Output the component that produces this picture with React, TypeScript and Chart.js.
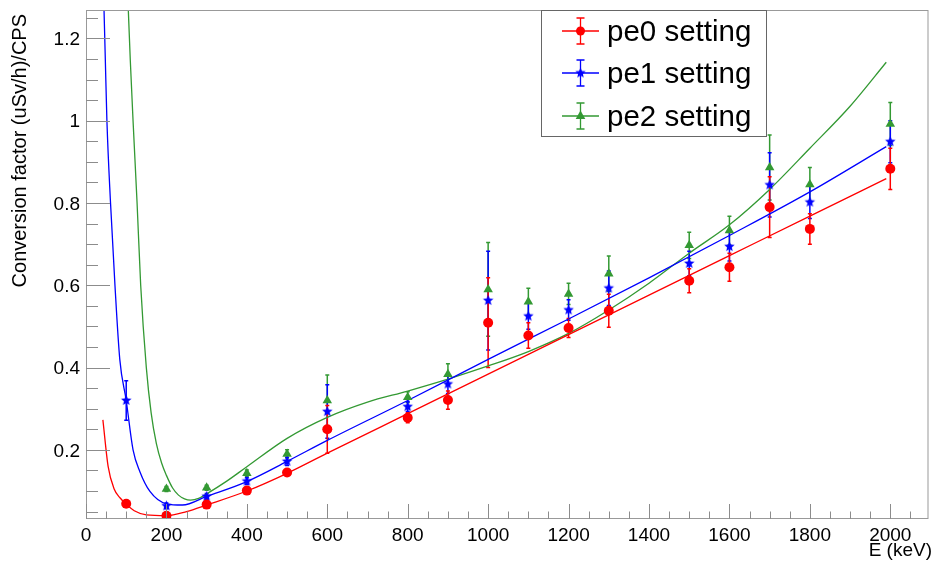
import React, { useEffect, useRef } from "react";
import { Chart, registerables } from "chart.js";

Chart.register(...registerables);

// ---------- data ----------
const energies = [100, 200, 300, 400, 500, 600, 800, 900, 1000, 1100, 1200, 1300, 1500, 1600, 1700, 1800, 2000];
const pe0Values = [0.069, 0.040, 0.067, 0.101, 0.145, 0.250, 0.278, 0.321, 0.509, 0.478, 0.496, 0.538, 0.611, 0.644, 0.790, 0.737, 0.883];
const pe0Errors = [0.006, 0.005, 0.006, 0.008, 0.009, 0.058, 0.012, 0.022, 0.109, 0.031, 0.023, 0.040, 0.029, 0.034, 0.074, 0.037, 0.050];
const pe1Values = [0.320, 0.064, 0.087, 0.124, 0.172, 0.293, 0.305, 0.360, 0.563, 0.525, 0.540, 0.593, 0.653, 0.694, 0.844, 0.802, 0.949];
const pe1Errors = [0.048, 0.007, 0.007, 0.008, 0.010, 0.065, 0.012, 0.023, 0.120, 0.032, 0.025, 0.042, 0.030, 0.035, 0.078, 0.040, 0.051];
const pe2Energies = [200, 300, 400, 500, 600, 800, 900, 1000, 1100, 1200, 1300, 1500, 1600, 1700, 1800, 2000];
const pe2Values = [0.105, 0.108, 0.143, 0.190, 0.320, 0.328, 0.384, 0.590, 0.560, 0.579, 0.628, 0.697, 0.733, 0.886, 0.845, 0.992];
const pe2Errors = [0.006, 0.006, 0.008, 0.010, 0.062, 0.013, 0.025, 0.114, 0.033, 0.026, 0.043, 0.032, 0.035, 0.079, 0.041, 0.052];

// fitted curves
const fit0E = [42, 55, 70, 85, 100, 120, 150, 200, 250, 300, 400, 500, 600, 800, 1000, 1200, 1400, 1600, 1800, 1990];
const fit0Y = [0.273, 0.160, 0.105, 0.083, 0.068, 0.052, 0.042, 0.040, 0.050, 0.066, 0.100, 0.143, 0.192, 0.288, 0.384, 0.480, 0.576, 0.672, 0.768, 0.859];
const fit1E = [44, 48, 52, 61, 72, 84, 100, 117, 134, 159, 200, 240, 300, 400, 500, 600, 800, 1000, 1200, 1400, 1600, 1800, 1990];
const fit1Y = [1.30, 1.15, 1.00, 0.80, 0.60, 0.42, 0.32, 0.20, 0.147, 0.099, 0.069, 0.066, 0.087, 0.123, 0.172, 0.223, 0.320, 0.420, 0.518, 0.618, 0.721, 0.827, 0.937];
const fit2E = [104, 110, 117, 127, 136, 150, 162, 175, 188, 200, 215, 230, 245, 260, 280, 300, 350, 400, 500, 600, 700, 800, 900, 1000, 1100, 1200, 1300, 1400, 1500, 1600, 1700, 1800, 1900, 1990];
const fit2Y = [1.30, 1.15, 1.00, 0.80, 0.60, 0.40, 0.29, 0.215, 0.168, 0.138, 0.108, 0.090, 0.081, 0.078, 0.082, 0.093, 0.124, 0.159, 0.228, 0.279, 0.316, 0.343, 0.372, 0.404, 0.439, 0.483, 0.540, 0.605, 0.678, 0.747, 0.833, 0.933, 1.035, 1.142];

const xTickLabels = [0, 200, 400, 600, 800, 1000, 1200, 1400, 1600, 1800, 2000];
const yTickLabels = [0.2, 0.4, 0.6, 0.8, 1, 1.2];
const legendLabels = ["pe0 setting", "pe1 setting", "pe2 setting"];

const X_MIN = 0;
const X_MAX = 2095;
const Y_MIN = 0.032;
const Y_MAX = 1.269;

const RED = "rgb(255,0,0)";
const BLUE = "rgb(0,0,255)";
const GREEN = "rgb(51,153,51)";
const FONT = "Liberation Sans, Arial, Helvetica, sans-serif";

function makeStar(color: string, r: number) {
  const size = Math.ceil(r * 2 + 2);
  const c = document.createElement("canvas");
  c.width = size;
  c.height = size;
  const g = c.getContext("2d")!;
  const cx = size / 2;
  const cy = size / 2;
  g.beginPath();
  for (let i = 0; i < 10; i++) {
    const ang = -Math.PI / 2 + (i * Math.PI) / 5;
    const rr = i % 2 === 0 ? r : r * 0.45;
    const px = cx + Math.cos(ang) * rr;
    const py = cy + Math.sin(ang) * rr;
    if (i === 0) g.moveTo(px, py);
    else g.lineTo(px, py);
  }
  g.closePath();
  g.fillStyle = color;
  g.fill();
  return c;
}

function fmt(v: number) {
  return String(v);
}

const rootStyle = {
  id: "rootStyle",
  beforeDatasetsDraw(chart: any) {
    const { ctx, chartArea: a, scales } = chart;
    const x = scales.x;
    const y = scales.y;
    ctx.save();
    ctx.beginPath();
    ctx.rect(a.left, a.top, a.right - a.left, a.bottom - a.top);
    ctx.clip();
    const drawErr = (es: number[], vs: number[], errs: number[], color: string) => {
      ctx.strokeStyle = color;
      ctx.lineWidth = 1.5;
      es.forEach((e, i) => {
        const px = x.getPixelForValue(e);
        const y1 = y.getPixelForValue(vs[i] + errs[i]);
        const y2 = y.getPixelForValue(vs[i] - errs[i]);
        ctx.beginPath();
        ctx.moveTo(px, y1);
        ctx.lineTo(px, y2);
        ctx.moveTo(px - 2, y1);
        ctx.lineTo(px + 2, y1);
        ctx.moveTo(px - 2, y2);
        ctx.lineTo(px + 2, y2);
        ctx.stroke();
      });
    };
    drawErr(pe2Energies, pe2Values, pe2Errors, GREEN);
    drawErr(energies, pe1Values, pe1Errors, BLUE);
    drawErr(energies, pe0Values, pe0Errors, RED);
    ctx.restore();
  },
  afterDatasetsDraw(chart: any) {
    const { ctx, chartArea: a, scales } = chart;
    const x = scales.x;
    const y = scales.y;
    ctx.save();
    // frame
    ctx.strokeStyle = "#999999";
    ctx.lineWidth = 1;
    ctx.strokeRect(a.left + 0.5, a.top + 0.5, a.right - a.left - 1, a.bottom - a.top - 1);

    // ticks
    ctx.strokeStyle = "#8c8c8c";
    ctx.beginPath();
    for (let v = 0; v <= X_MAX; v += 50) {
      const px = Math.round(x.getPixelForValue(v)) + 0.5;
      const len = v % 200 === 0 ? 15 : 7.5;
      ctx.moveTo(px, a.bottom);
      ctx.lineTo(px, a.bottom - len);
    }
    for (let k = 1; k * 0.05 <= Y_MAX; k++) {
      const v = k * 0.05;
      if (v < Y_MIN) continue;
      const py = Math.round(y.getPixelForValue(v)) + 0.5;
      const len = k % 4 === 0 ? 24 : 12;
      ctx.moveTo(a.left, py);
      ctx.lineTo(a.left + len, py);
    }
    ctx.stroke();

    // tick labels
    ctx.fillStyle = "#000";
    ctx.font = `19px ${FONT}`;
    ctx.textBaseline = "alphabetic";
    ctx.textAlign = "center";
    xTickLabels.forEach((v) => {
      ctx.fillText(fmt(v), x.getPixelForValue(v), 541);
    });
    ctx.textAlign = "right";
    yTickLabels.forEach((v) => {
      ctx.fillText(fmt(v), 80, y.getPixelForValue(v) + 6.8);
    });

    // axis titles
    ctx.textAlign = "right";
    ctx.fillText("E (keV)", 932, 556);
    ctx.save();
    ctx.font = `20px ${FONT}`;
    ctx.translate(26, 14);
    ctx.rotate(-Math.PI / 2);
    ctx.textAlign = "right";
    ctx.fillText("Conversion factor (uSv/h)/CPS", 0, 0);
    ctx.restore();

    // legend
    const lx1 = 541;
    const lx2 = 767;
    const ly1 = 10;
    const ly2 = 137;
    ctx.fillStyle = "#fff";
    ctx.fillRect(lx1, ly1, lx2 - lx1, ly2 - ly1);
    ctx.strokeStyle = "#666";
    ctx.lineWidth = 1;
    ctx.strokeRect(lx1 + 0.5, ly1 + 0.5, lx2 - lx1 - 1, ly2 - ly1 - 1);
    const rows = [31, 73, 116];
    const colors = [RED, BLUE, GREEN];
    rows.forEach((ry, i) => {
      const c = colors[i];
      ctx.strokeStyle = c;
      ctx.fillStyle = c;
      ctx.lineWidth = 1.3;
      ctx.beginPath();
      ctx.moveTo(562, ry);
      ctx.lineTo(599, ry);
      ctx.moveTo(580.5, ry - 13);
      ctx.lineTo(580.5, ry + 13);
      ctx.moveTo(576.5, ry - 13);
      ctx.lineTo(584.5, ry - 13);
      ctx.moveTo(576.5, ry + 13);
      ctx.lineTo(584.5, ry + 13);
      ctx.stroke();
      if (i === 0) {
        ctx.beginPath();
        ctx.arc(580.5, ry, 4.5, 0, Math.PI * 2);
        ctx.fill();
      } else if (i === 1) {
        ctx.drawImage(chart.$blueStar, 580.5 - chart.$blueStar.width / 2, ry - chart.$blueStar.height / 2);
      } else {
        ctx.beginPath();
        ctx.moveTo(580.5, ry - 5.5);
        ctx.lineTo(585.3, ry + 3);
        ctx.lineTo(575.7, ry + 3);
        ctx.closePath();
        ctx.fill();
      }
      ctx.fillStyle = "#000";
      ctx.font = `29.5px ${FONT}`;
      ctx.textAlign = "left";
      ctx.textBaseline = "alphabetic";
      ctx.fillText(legendLabels[i], 607, ry + 10);
    });
    ctx.restore();
  },
};

export default function App() {
  const ref = useRef<HTMLCanvasElement | null>(null);
  useEffect(() => {
    if (!ref.current) return;
    const star = makeStar(BLUE, 5.5);
    const toXY = (es: number[], vs: number[]) => es.map((e, i) => ({ x: e, y: vs[i] }));
    const pointDs = (label: string, es: number[], vs: number[], color: string, style: any, r: number) => ({
      label,
      data: toXY(es, vs),
      showLine: false,
      pointStyle: style,
      pointRadius: r,
      pointBackgroundColor: color,
      pointBorderColor: color,
      pointBorderWidth: 0,
      borderColor: color,
      backgroundColor: color,
    });
    const curveDs = (label: string, es: number[], vs: number[], color: string) => ({
      label,
      data: toXY(es, vs),
      showLine: true,
      pointRadius: 0,
      borderColor: color,
      borderWidth: 1.3,
      cubicInterpolationMode: "monotone" as const,
      fill: false,
    });
    const chart = new Chart(ref.current, {
      type: "scatter",
      data: {
        datasets: [
          pointDs(legendLabels[0], energies, pe0Values, RED, "circle", 5),
          pointDs(legendLabels[1], energies, pe1Values, BLUE, star, 5.5),
          pointDs(legendLabels[2], pe2Energies, pe2Values, GREEN, "triangle", 5.5),
          curveDs("fit0", fit0E, fit0Y, RED),
          curveDs("fit1", fit1E, fit1Y, BLUE),
          curveDs("fit2", fit2E, fit2Y, GREEN),
        ] as any,
      },
      options: {
        animation: false,
        responsive: false,
        devicePixelRatio: 1,
        layout: { padding: { left: 86, top: 10, right: 2, bottom: 48 } },
        plugins: { legend: { display: false }, tooltip: { enabled: false } },
        events: [],
        scales: {
          x: { type: "linear", min: X_MIN, max: X_MAX, display: false },
          y: { type: "linear", min: Y_MIN, max: Y_MAX, display: false },
        },
      },
      plugins: [
        {
          id: "starRef",
          beforeInit(c: any) {
            c.$blueStar = star;
          },
        },
        rootStyle,
      ],
    });
    return () => chart.destroy();
  }, []);
  return (
    <div style={{ position: "fixed", left: 0, top: 0, width: 934, height: 567, background: "#fff" }}>
      <canvas ref={ref} width={934} height={567} style={{ width: 934, height: 567, display: "block" }} />
    </div>
  );
}
